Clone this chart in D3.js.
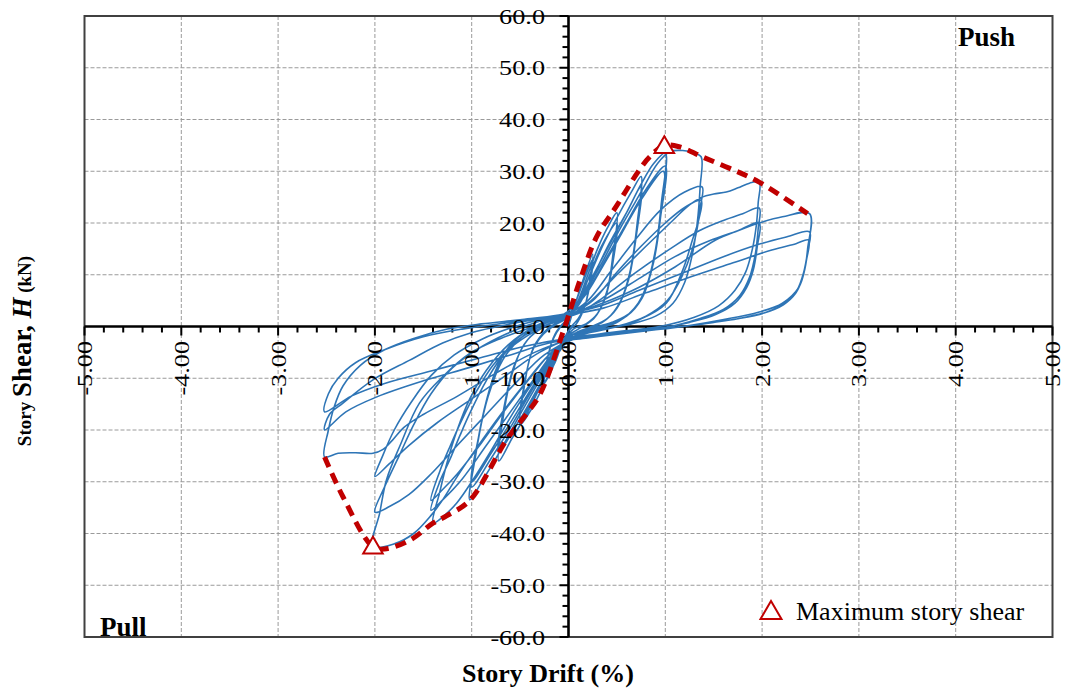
<!DOCTYPE html>
<html><head><meta charset="utf-8">
<script src="https://cdn.jsdelivr.net/npm/d3@7"></script>
<style>
body{margin:0;background:#fff}
text{font-family:"Liberation Serif","Times New Roman",serif;fill:#000}
</style>
</head><body>
<svg id="chart" width="1065" height="689"></svg>
<script>
// ---------------- data ----------------
const xTicks = [-5,-4,-3,-2,-1,0,1,2,3,4,5];
const yTicks = [-60,-50,-40,-30,-20,-10,0,10,20,30,40,50,60];

// hysteresis record: [story drift (%), story shear (kN)]
const hysteresisPoints = [
 [0,0],[0.08,5],[0.16,9.5],[0.25,14],[0.22,9],[0.17,4],[0.1,1.5],[0.03,0],[-0.05,-2.5],[-0.12,-6],[-0.19,-9],[-0.25,-11],[-0.22,-6.5],[-0.16,-2.5],[-0.08,0],[0,1.5],
 [0.08,5],[0.16,9],[0.25,13],[0.22,8],[0.16,3.5],[0.08,0.5],[0.02,-0.5],[-0.06,-3],[-0.14,-7],[-0.25,-10.5],[-0.21,-5.5],[-0.14,-1.5],[-0.06,0.5],[0,1.5],
 [0.1,5],[0.2,10],[0.3,15],[0.4,19],[0.5,22],[0.46,14],[0.4,7],[0.3,2.5],[0.18,0.5],[0.05,-0.5],[-0.05,-3],[-0.15,-7],[-0.3,-13],[-0.4,-16.5],[-0.5,-19],[-0.46,-12],[-0.38,-5],[-0.26,-1.5],[-0.12,0.5],[0,1.8],
 [0.1,4.5],[0.22,10],[0.34,15.5],[0.5,20],[0.46,12.5],[0.38,5.5],[0.26,1.5],[0.1,-0.5],[-0.05,-2.5],[-0.2,-8],[-0.35,-13.5],[-0.5,-18],[-0.45,-10.5],[-0.36,-4],[-0.22,-0.5],[-0.05,1.5],
 [0.05,3],[0.2,9],[0.35,15.5],[0.5,21],[0.65,26],[0.75,29],[0.71,20],[0.64,11],[0.54,5],[0.4,1.5],[0.2,-0.3],[0.05,-1.5],[-0.1,-5],[-0.25,-10],[-0.42,-16.5],[-0.58,-21.5],[-0.72,-26],[-0.67,-17],[-0.58,-9],[-0.46,-3.5],[-0.3,-0.5],[-0.12,1],[0,2],
 [0.1,4],[0.25,9.5],[0.42,16],[0.6,22],[0.75,27],[0.7,17.5],[0.62,9],[0.5,3.5],[0.35,0.8],[0.15,-0.8],[0,-2],[-0.15,-6],[-0.32,-12],[-0.52,-18.5],[-0.72,-24],[-0.66,-15],[-0.56,-7.5],[-0.42,-2.5],[-0.25,0],[-0.08,1.5],
 [0.05,3],[0.2,8],[0.4,15],[0.6,22],[0.75,27.5],[0.88,31.5],[1.0,33.5],[0.96,24],[0.9,15],[0.8,7.5],[0.66,3],[0.45,0.8],[0.2,-0.5],[0.05,-1.5],[-0.1,-4.5],[-0.3,-10.5],[-0.5,-17],[-0.72,-24.5],[-0.88,-29.5],[-1.02,-33.5],[-0.96,-25],[-0.88,-17],[-0.77,-9.5],[-0.62,-4],[-0.42,-0.8],[-0.2,1],[0,2.2],
 [0.2,7],[0.4,13.5],[0.6,20],[0.8,26.5],[1.0,31],[0.95,21],[0.88,12.5],[0.76,5.5],[0.6,2],[0.38,0.2],[0.15,-1],[0,-2],[-0.2,-7],[-0.4,-13],[-0.6,-19.5],[-0.8,-25.5],[-1.0,-31],[-0.94,-22.5],[-0.85,-14.5],[-0.73,-7.5],[-0.55,-2.5],[-0.3,0.3],[-0.08,2],
 [0.15,5.5],[0.35,11.5],[0.55,18],[0.75,24.5],[0.98,30],[0.94,20],[0.86,11],[0.72,4.5],[0.52,1],[0.3,-0.5],[0.05,-2],[-0.15,-5.5],[-0.35,-11],[-0.58,-18],[-0.8,-24.5],[-1.0,-30],[-0.93,-21.5],[-0.83,-13.5],[-0.68,-6.5],[-0.48,-2],[-0.25,0.8],[0,2.5],
 [0.15,6],[0.35,12.5],[0.55,19.5],[0.75,26],[0.92,31.5],[1.05,33.8],[1.18,34],[1.3,33.5],[1.37,32.8],[1.36,27],[1.33,20],[1.28,14],[1.2,8.5],[1.08,4.5],[0.9,2],[0.65,0.5],[0.35,-0.5],[0.1,-1.5],[-0.1,-4],[-0.3,-9],[-0.55,-16],[-0.8,-24],[-1.0,-30],[-1.15,-34],[-1.3,-36.8],[-1.4,-38],[-1.33,-32],[-1.25,-26],[-1.15,-20],[-1.02,-14],[-0.85,-8.5],[-0.62,-3.5],[-0.35,0],[-0.1,2],[0,2.5],
 [0.2,5],[0.45,11],[0.7,17],[0.95,22.5],[1.2,26],[1.38,27],[1.36,23],[1.33,19],[1.28,15],[1.18,10],[1.02,5],[0.8,2],[0.5,0],[0.15,-1.5],[-0.1,-4],[-0.35,-10],[-0.6,-16.5],[-0.85,-23],[-1.1,-29.5],[-1.3,-33.5],[-1.42,-35.5],[-1.33,-30],[-1.23,-25.9],[-1.12,-21],[-1.02,-16.8],[-0.85,-10.5],[-0.65,-5],[-0.4,-1.5],[-0.15,1],[0.05,2.6],
 [0.25,5],[0.5,10.5],[0.75,15.5],[1.0,20],[1.2,23],[1.37,24.4],[1.35,21],[1.28,16.7],[1.18,10.9],[1.01,4.5],[0.73,1.3],[0.4,-0.5],[0.1,-1.8],[-0.15,-4.5],[-0.4,-10],[-0.65,-16],[-0.9,-22.5],[-1.15,-28.5],[-1.3,-31.5],[-1.42,-33.6],[-1.33,-28],[-1.22,-23],[-1.1,-18],[-0.95,-12.5],[-0.78,-7.5],[-0.55,-3],[-0.3,0],[-0.05,2.2],
 [0.2,4.5],[0.5,10],[0.8,15.5],[1.05,20],[1.25,23.5],[1.38,25],[1.5,25.6],[1.63,26],[1.75,26.8],[1.87,27.7],[1.97,27.9],[1.96,24],[1.94,19.5],[1.9,15],[1.83,10.5],[1.72,7],[1.55,4],[1.3,1.8],[0.94,0],[0.6,-0.8],[0.3,-1.5],[0.05,-2.3],[-0.2,-5.5],[-0.45,-11],[-0.7,-17],[-0.95,-23.5],[-1.15,-29],[-1.3,-33.5],[-1.42,-36.5],[-1.6,-40],[-1.8,-42],[-2.02,-42.5],[-1.95,-36],[-1.88,-29.6],[-1.74,-23],[-1.54,-14.8],[-1.3,-9.7],[-1.02,-5.2],[-0.7,-2.3],[-0.4,-0.3],[-0.1,1.5],[0.1,2.5],
 [0.35,5.5],[0.7,10.5],[1.05,15],[1.35,18.5],[1.6,20.5],[1.8,21.8],[1.97,22.9],[1.96,19],[1.93,14],[1.87,9.5],[1.77,6],[1.6,3.3],[1.35,1.5],[1.0,-0.2],[0.65,-1],[0.3,-1.8],[0.05,-2.5],[-0.25,-5.5],[-0.55,-11],[-0.85,-17],[-1.15,-23],[-1.42,-28.5],[-1.65,-32.5],[-1.85,-34.8],[-2.0,-35.9],[-1.9,-31],[-1.75,-25],[-1.6,-19],[-1.42,-13],[-1.2,-8],[-0.95,-4.5],[-0.65,-1.5],[-0.3,1],[0,2.3],
 [0.35,5],[0.75,9.5],[1.1,13.5],[1.45,16.5],[1.75,18.5],[1.97,20],[1.95,15.5],[1.91,11],[1.84,7.5],[1.72,4.5],[1.52,2.3],[1.25,0.8],[0.95,-0.3],[0.6,-1],[0.25,-1.8],[0,-2.5],[-0.3,-5],[-0.65,-9.5],[-1.0,-14],[-1.35,-18.5],[-1.65,-23],[-1.85,-26.5],[-2.0,-29],[-1.92,-25],[-1.8,-20],[-1.62,-14.5],[-1.42,-9.5],[-1.18,-5.5],[-0.9,-2.5],[-0.6,-0.3],[-0.3,1.3],[0,2.3],
 [0.35,4.5],[0.73,7.6],[1.1,11.5],[1.52,16.7],[1.75,18.5],[1.97,20],[2.21,21.2],[2.49,21.8],[2.47,15],[2.44,11],[2.38,7.6],[2.21,4.5],[1.97,2.8],[1.59,1.3],[1.07,-0.3],[0.6,-1.2],[0.25,-2],[0,-2.6],[-0.35,-5],[-0.75,-9],[-1.15,-13.5],[-1.5,-17],[-1.7,-19.5],[-1.82,-22],[-1.92,-23.8],[-2.02,-24.5],[-2.2,-24.4],[-2.38,-24.5],[-2.52,-25.2],[-2.48,-20],[-2.42,-15.5],[-2.33,-11.5],[-2.15,-7.5],[-1.9,-4.5],[-1.6,-2.3],[-1.25,-0.5],[-0.9,0.5],[-0.5,1.3],[-0.1,2.2],
 [0.3,3.8],[0.73,7],[1.2,10.5],[1.6,13.5],[1.95,15.8],[2.25,17.3],[2.49,18.3],[2.47,14.5],[2.43,10.5],[2.36,7],[2.24,4.5],[2.05,2.8],[1.8,1.7],[1.5,0.8],[1.05,-0.3],[0.6,-1.3],[0.2,-2.2],[-0.2,-3.2],[-0.6,-5.5],[-1.02,-7.9],[-1.5,-10.5],[-1.98,-13.6],[-2.3,-16.5],[-2.52,-20],[-2.47,-17],[-2.33,-14.8],[-2.02,-10.3],[-1.64,-6.5],[-1.3,-3.2],[-1.02,-1.3],[-0.6,0.5],[-0.2,1.8],[0,2.3],
 [0.35,3.5],[0.8,6.5],[1.25,9.5],[1.7,12.3],[2.1,14.8],[2.35,16],[2.48,16.7],[2.46,13],[2.42,9.5],[2.35,6.5],[2.22,4.2],[2.02,2.6],[1.75,1.5],[1.3,0.3],[0.85,-0.6],[0.4,-1.5],[0,-2.3],[-0.45,-3.8],[-0.9,-6],[-1.4,-8.5],[-1.9,-11],[-2.25,-13.5],[-2.52,-16.5],[-2.48,-13],[-2.38,-10],[-2.2,-7],[-1.9,-4.5],[-1.5,-2],[-1.1,-0.5],[-0.6,0.8],[-0.2,1.8],[0,2.2]
];

// envelope (red dashed)
const envelopeDrift = [-2.52,-2.33,-2.02,-1.9,-1.64,-1.4,-1.26,-1.02,-0.64,-0.43,-0.29,-0.05,0.12,0.29,0.49,0.73,0.84,0.99,1.15,1.38,1.66,1.97,2.47];
const envelopeShear = [-25.2,-32.9,-42.6,-43,-41.3,-38,-36.6,-33.6,-21.9,-16.8,-12.9,-0.7,9,17.3,23.1,30.2,32.8,35,34.7,32.8,30.6,27.9,21.8];

// maximum story shear markers
const peakDrift = [0.99,-2.02];
const peakShear = [34.6,-42.8];

// ---------------- drawing ----------------
const svg = d3.select("#chart");
const x = d3.scaleLinear().domain([-5,5]).range([84.5,1052.5]);
const y = d3.scaleLinear().domain([-60,60]).range([637,16]);
const x0 = x(0), y0 = y(0);

// grid
const grid = svg.append("g").attr("stroke","#9a9a9a").attr("stroke-width",1).attr("stroke-dasharray","4,2");
grid.selectAll(".gv").data(xTicks.filter(d=>d!==0 && Math.abs(d)!==5)).enter().append("line")
  .attr("x1",d=>x(d)).attr("x2",d=>x(d)).attr("y1",y(60)).attr("y2",y(-60));
grid.selectAll(".gh").data(yTicks.filter(d=>d!==0 && Math.abs(d)!==60)).enter().append("line")
  .attr("y1",d=>y(d)).attr("y2",d=>y(d)).attr("x1",x(-5)).attr("x2",x(5));

// plot border
svg.append("rect").attr("x",x(-5)).attr("y",y(60)).attr("width",x(5)-x(-5)).attr("height",y(-60)-y(60))
  .attr("fill","none").attr("stroke","#404040").attr("stroke-width",2);

// axes lines and ticks
const ax = svg.append("g").attr("stroke","#000");
ax.append("line").attr("x1",x(-5)).attr("x2",x(5)).attr("y1",y0).attr("y2",y0).attr("stroke-width",2.6);
ax.append("line").attr("x1",x0).attr("x2",x0).attr("y1",y(60)).attr("y2",y(-60)).attr("stroke-width",2.6);
const xMinor = x.ticks(50);
ax.selectAll(".xm").data(xMinor).enter().append("line")
  .attr("x1",d=>x(d)).attr("x2",d=>x(d)).attr("y1",y0).attr("y2",d=>y0+(xTicks.includes(Math.round(d*10)/10)?9:6))
  .attr("stroke-width",2);
const yMinor = y.ticks(60);
ax.selectAll(".ym").data(yMinor).enter().append("line")
  .attr("y1",d=>y(d)).attr("y2",d=>y(d)).attr("x1",d=>x0-(yTicks.includes(d)?9:6)).attr("x2",x0)
  .attr("stroke-width",2);

// hysteresis curve
const line = d3.line().x(d=>x(d[0])).y(d=>y(d[1])).curve(d3.curveCatmullRom.alpha(0.5));
svg.append("path").datum(hysteresisPoints).attr("d",line)
  .attr("fill","none").attr("stroke","#2E75B6").attr("stroke-width",1.6).attr("stroke-linejoin","round");

// envelope
const envData = envelopeDrift.map((d,i)=>[d,envelopeShear[i]]);
svg.append("path").datum(envData).attr("d",line)
  .attr("fill","none").attr("stroke","#C00000").attr("stroke-width",5).attr("stroke-dasharray","11,7");

// peak markers
const tri = d3.symbol().type(d3.symbolTriangle).size(165);
svg.selectAll(".pk").data(peakDrift).enter().append("path")
  .attr("d",tri).attr("transform",(d,i)=>`translate(${x(d)},${y(peakShear[i])})`)
  .attr("fill","#fff").attr("stroke","#C00000").attr("stroke-width",2);

// tick labels
svg.selectAll(".yl").data(yTicks).enter().append("text")
  .attr("transform",d=>`translate(545,${y(d)}) scale(1.22,1)`)
  .attr("text-anchor","end").attr("dy","0.35em").attr("font-size",21.5)
  .text(d=>d.toFixed(1));
svg.selectAll(".xl").data(xTicks).enter().append("text")
  .attr("transform",d=>`translate(${x(d)},341) rotate(-90) scale(1.22,1)`)
  .attr("text-anchor","end").attr("dy","0.35em").attr("font-size",21.5)
  .text(d=>d.toFixed(2));

// axis titles
svg.append("text").attr("x",548).attr("y",682).attr("text-anchor","middle")
  .attr("font-size",26).attr("font-weight","bold").text("Story Drift (%)");
const yt = svg.append("text").attr("transform","translate(31,351) rotate(-90)")
  .attr("text-anchor","middle").attr("font-weight","bold");
yt.append("tspan").attr("font-size",19).text("Story ");
yt.append("tspan").attr("font-size",27).text("Shear, ");
yt.append("tspan").attr("font-size",27).attr("font-style","italic").text("H");
yt.append("tspan").attr("font-size",19).text(" (kN)");

// corner labels
svg.append("text").attr("x",958).attr("y",46).attr("font-size",27).attr("font-weight","bold").text("Push");
svg.append("text").attr("x",100).attr("y",636).attr("font-size",27).attr("font-weight","bold").text("Pull");

// legend
svg.append("path").attr("d",d3.symbol().type(d3.symbolTriangle).size(190))
  .attr("transform","translate(771,613)").attr("fill","#fff").attr("stroke","#C00000").attr("stroke-width",2);
svg.append("text").attr("x",796).attr("y",620).attr("font-size",26).text("Maximum story shear");
</script>
</body></html>
